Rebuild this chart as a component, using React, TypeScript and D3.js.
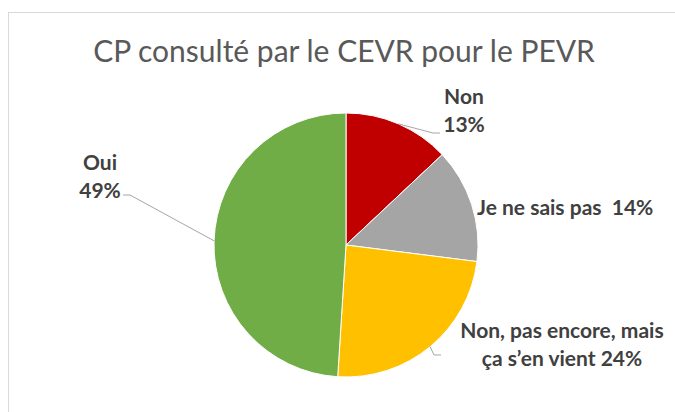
import { useEffect, useRef } from 'react';
import * as d3 from 'd3';

// data
const categories = ['Non', 'Je ne sais pas', 'Non, pas encore, mais ça s’en vient', 'Oui'];
const values = [13, 14, 24, 49];
const colors = ['#C00000', '#A5A5A5', '#FFC000', '#70AD47'];
const labelLines = [
  ['Non', '13%'],
  ['Je ne sais pas  14%'],
  ['Non, pas encore, mais', 'ça s’en vient 24%'],
  ['Oui', '49%'],
];
const title = 'CP consulté par le CEVR pour le PEVR';

// label placement (relative to the pie centre) and leader line end points
const labelLayout = [
  { x: 118, y: -141, anchor: 'middle', leader: [94, -112] },
  { x: 131, y: -30, anchor: 'start', leader: null },
  { x: 216, y: 93, anchor: 'middle', leader: [95, 110] },
  { x: -246, y: -75, anchor: 'middle', leader: [-223, -50] },
];

const W = 675;
const H = 412;

const App = () => {
  const svgRef = useRef<SVGSVGElement | null>(null);

  useEffect(() => {
    if (!svgRef.current) return;
    const svg = d3.select(svgRef.current);
    svg.selectAll('*').remove();

    // chart frame
    svg.append('rect')
      .attr('x', 8.5)
      .attr('y', 12.5)
      .attr('width', W + 20)
      .attr('height', H + 20)
      .attr('fill', '#fff')
      .attr('stroke', '#D9D9D9')
      .attr('stroke-width', 1);

    svg.append('text')
      .attr('x', 344)
      .attr('y', 62)
      .attr('text-anchor', 'middle')
      .style('font-family', 'Lato, "Open Sans", sans-serif')
      .style('font-size', '30px')
      .style('fill', '#595959')
      .text(title);

    const cx = 346;
    const cy = 245;
    const radius = 132;

    const data = categories.map((c, i) => ({ name: c, value: values[i], i }));
    const pie = d3.pie<{ name: string; value: number; i: number }>()
      .sort(null)
      .value(d => d.value);
    const arc = d3.arc<d3.PieArcDatum<{ name: string; value: number; i: number }>>()
      .innerRadius(0)
      .outerRadius(radius);

    const g = svg.append('g').attr('transform', `translate(${cx},${cy})`);
    const arcs = pie(data);

    g.selectAll('path.slice')
      .data(arcs)
      .enter()
      .append('path')
      .attr('class', 'slice')
      .attr('d', arc)
      .attr('fill', d => colors[d.data.i])
      .attr('stroke', '#fff')
      .attr('stroke-width', 1);

    // leader lines
    arcs.forEach(d => {
      const lay = labelLayout[d.data.i];
      if (!lay.leader) return;
      const mid = (d.startAngle + d.endAngle) / 2;
      const sx = Math.sin(mid) * radius;
      const sy = -Math.cos(mid) * radius;
      const [ex, ey] = lay.leader;
      const hx = ex + (ex > sx ? -7 : 7);
      g.append('path')
        .attr('d', d3.line()([[sx, sy], [hx, ey], [ex, ey]]))
        .attr('fill', 'none')
        .attr('stroke', '#A6A6A6')
        .attr('stroke-width', 1);
    });

    // labels
    arcs.forEach(d => {
      const lay = labelLayout[d.data.i];
      const t = g.append('text')
        .attr('text-anchor', lay.anchor)
        .style('font-family', 'Lato, "Open Sans", sans-serif')
        .style('font-size', '21px')
        .style('font-weight', 'bold')
        .style('fill', '#404040');
      labelLines[d.data.i].forEach((line, k) => {
        t.append('tspan')
          .attr('x', lay.x)
          .attr('y', lay.y + k * 28)
          .attr('xml:space', 'preserve')
          .style('white-space', 'pre')
          .text(line);
      });
    });
  }, []);

  return (
    <svg
      ref={svgRef}
      width={W}
      height={H}
      style={{ position: 'absolute', left: 0, top: 0 }}
    />
  );
};

export default App;
